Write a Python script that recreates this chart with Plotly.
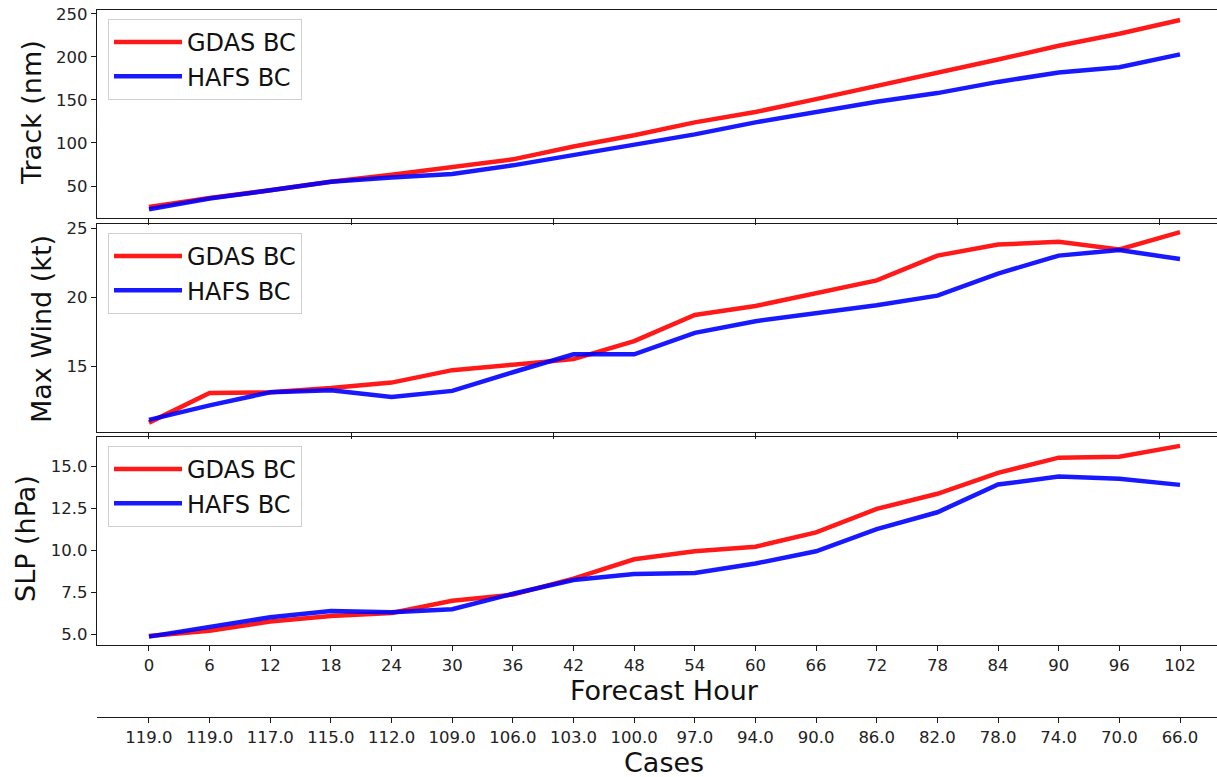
import plotly.graph_objects as go

hours = [0, 6, 12, 18, 24, 30, 36, 42, 48, 54, 60, 66, 72, 78, 84, 90, 96, 102]
cases = [119, 119, 117, 115, 112, 109, 106, 103, 100, 97, 94, 90, 86, 82, 78, 74, 70, 66]

track_gdas = [25.5, 36, 45, 55, 63, 72, 81, 96, 109, 124, 136, 151, 166, 181, 197, 213, 227, 243]
track_hafs = [23, 35.5, 45, 55, 60, 64, 74, 86, 98.5, 110, 124, 136, 148, 158, 171, 182, 188, 203]

wind_gdas = [10.9, 13.05, 13.1, 13.4, 13.8, 14.7, 15.1, 15.5, 16.8, 18.7, 19.35, 20.25, 21.2, 23.0, 23.8, 24.0, 23.45, 24.7]
wind_hafs = [11.1, 12.15, 13.1, 13.25, 12.75, 13.2, 14.55, 15.85, 15.85, 17.4, 18.25, 18.85, 19.4, 20.1, 21.7, 23.0, 23.4, 22.75]

slp_gdas = [4.88, 5.2, 5.75, 6.07, 6.25, 6.98, 7.35, 8.3, 9.45, 9.93, 10.2, 11.05, 12.45, 13.35, 14.6, 15.5, 15.55, 16.2]
slp_hafs = [4.85, 5.42, 6.0, 6.38, 6.3, 6.48, 7.4, 8.22, 8.57, 8.63, 9.2, 9.93, 11.25, 12.25, 13.9, 14.38, 14.25, 13.88]

series_names = ["GDAS BC", "HAFS BC"]
colors = ["rgba(255,0,0,0.9)", "rgba(0,0,255,0.9)"]

W, H = 1217, 777
L, T = 97, 10
PW, PH = W - L, H - T

def px(x):
    return (x - L) / PW

def py(y):
    return (H - y) / PH

FONT = "DejaVu Sans"
LINE = "#1a1a1a"

fig = go.Figure()
panels = [
    (track_gdas, track_hafs, "x", "y", "legend"),
    (wind_gdas, wind_hafs, "x2", "y2", "legend2"),
    (slp_gdas, slp_hafs, "x3", "y3", "legend3"),
]
for g, h, xa, ya, lg in panels:
    for vals, name, col in zip([g, h], series_names, colors):
        fig.add_trace(go.Scatter(x=hours, y=vals, mode="lines", name=name,
                                 line=dict(color=col, width=4.5),
                                 xaxis=xa, yaxis=ya, legend=lg))

# invisible trace to carry the "Cases" axis
fig.add_trace(go.Scatter(x=hours, y=slp_gdas, mode="lines", line=dict(color="rgba(0,0,0,0)"),
                         xaxis="x4", yaxis="y3", showlegend=False, hoverinfo="skip"))

xrange = [-5.14, 105.66]
common_x = dict(range=xrange, showline=True, linecolor=LINE, linewidth=1.3, mirror=True,
                showgrid=False, zeroline=False, ticks="outside", tickcolor=LINE,
                tickwidth=1.3, automargin=False,
                tickfont=dict(family=FONT, size=16.5, color="#222"))
common_y = dict(showline=True, linecolor=LINE, linewidth=1.3, mirror=False,
                showgrid=False, zeroline=False, ticks="outside", tickcolor=LINE,
                tickwidth=1.3, ticklen=5, automargin=False,
                tickfont=dict(family=FONT, size=16.5, color="#222"))

dom_top = [py(218), py(10)]
dom_mid = [py(432), py(224)]
dom_bot = [py(645), py(437)]

legend_common = dict(xanchor="left", yanchor="top", bgcolor="white", bordercolor="#d0d0d0",
                     borderwidth=1, font=dict(family=FONT, size=24, color="#111"),
                     tracegroupgap=0, itemwidth=68)

fig.update_layout(
    width=W, height=H,
    margin=dict(l=L, r=0, t=T, b=0),
    plot_bgcolor="white", paper_bgcolor="white",
    xaxis=dict(common_x, domain=[0, 1], anchor="y", tickvals=[0, 20, 40, 60, 80, 100],
               ticklen=6, showticklabels=False),
    xaxis2=dict(common_x, domain=[0, 1], anchor="y2", tickvals=[0, 20, 40, 60, 80, 100],
                ticklen=6, showticklabels=False),
    xaxis3=dict(common_x, domain=[0, 1], anchor="y3", tickvals=hours, ticklen=5),
    xaxis4=dict(range=xrange, overlaying="x3", anchor="free", position=py(717), side="bottom",
                showline=True, linecolor=LINE, linewidth=1.3, showgrid=False, zeroline=False,
                ticks="outside", tickcolor=LINE, tickwidth=1.3, ticklen=5, automargin=False,
                tickvals=hours, ticktext=[f"{c:.1f}" for c in cases],
                tickfont=dict(family=FONT, size=16.5, color="#222")),
    yaxis=dict(common_y, domain=dom_top, anchor="x", range=[12.8, 254.6],
               tickvals=[50, 100, 150, 200, 250]),
    yaxis2=dict(common_y, domain=dom_mid, anchor="x2", range=[10.22, 25.29],
                tickvals=[15, 20, 25]),
    yaxis3=dict(common_y, domain=dom_bot, anchor="x3", range=[4.35, 16.73],
                tickvals=[5, 7.5, 10, 12.5, 15], tickformat=".1f"),
    legend=dict(legend_common, x=px(108), y=py(19)),
    legend2=dict(legend_common, x=px(108), y=py(233)),
    legend3=dict(legend_common, x=px(108), y=py(446)),
    showlegend=True,
)

title_font = dict(family=FONT, size=27, color="#111")
annots = [
    ("Track (nm)", 31, 113, -90),
    ("Max Wind (kt)", 41, 329, -90),
    ("SLP (hPa)", 25, 539, -90),
    ("Forecast Hour", 664, 690, 0),
    ("Cases", 664, 762, 0),
]
for text, x, y, ang in annots:
    fig.add_annotation(text=text, x=px(x), y=py(y), xref="paper", yref="paper",
                       xanchor="center", yanchor="middle", showarrow=False,
                       textangle=ang, font=title_font)

fig.write_html("out.html")
